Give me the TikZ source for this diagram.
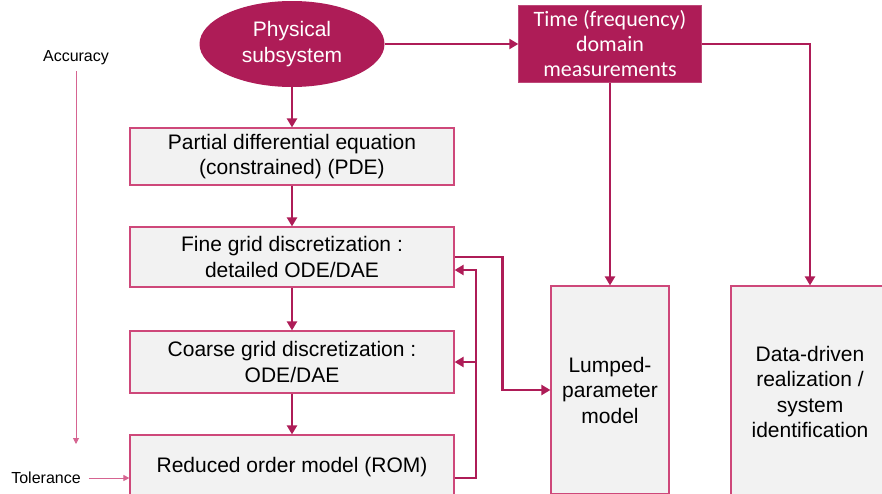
\documentclass[tikz,border=0pt]{standalone}
\usepackage{fontspec}
\setmainfont{Liberation Sans}
\newfontfamily\calib{Carlito}
\usetikzlibrary{arrows.meta,shapes.geometric}
\definecolor{maroon}{RGB}{174,28,87}
\definecolor{boxborder}{RGB}{206,72,122}
\definecolor{boxfill}{RGB}{242,242,242}
\definecolor{thinline}{RGB}{214,100,145}
\tikzset{
  stepbox/.style={draw=boxborder, line width=1.2pt, fill=boxfill, rectangle, align=center,
    inner sep=0pt, font=\fontsize{21}{25.5}\selectfont},
  flow/.style={draw=maroon, line width=2.8pt, -{Triangle[length=9pt,width=10pt]}},
  flowline/.style={draw=maroon, line width=2.8pt},
  thin/.style={draw=thinline, line width=0.9pt, -{Triangle[length=6pt,width=6pt]}},
  side/.style={font=\fontsize{16}{19}\selectfont, inner sep=0pt}
}
\begin{document}
\begin{tikzpicture}[x=1pt,y=-1pt]
\clip (0,0) rectangle (882,493);
\fill[white] (0,0) rectangle (882,493);

\node[ellipse, fill=maroon, minimum width=185pt, minimum height=86pt, inner sep=0pt,
  text=white, align=center, font=\fontsize{21}{26}\selectfont] (phys) at (292,44) {Physical\\subsystem};

\node[rectangle, fill=maroon, draw=maroon!80!white, minimum width=183pt, minimum height=77pt, inner sep=0pt,
  text=white, align=center, font=\calib\fontsize{22}{25}\selectfont] (time) at (610,44) {Time (frequency)\\domain\\measurements};

\node[stepbox, minimum width=324pt, minimum height=57pt] (pde) at (292,156.5) {Partial differential equation\\(constrained) (PDE)};
\node[stepbox, minimum width=324pt, minimum height=60pt] (fine) at (292,257) {Fine grid discretization :\\detailed ODE/DAE};
\node[stepbox, minimum width=324pt, minimum height=62pt] (coarse) at (292,362) {Coarse grid discretization :\\ODE/DAE};
\node[stepbox, minimum width=324pt, minimum height=64pt] (rom) at (292,467) {Reduced order model (ROM)};

\node[stepbox, minimum width=118pt, minimum height=208pt] (lumped) at (610,390) {Lumped-\\parameter\\model};
\node[stepbox, minimum width=158pt, minimum height=212pt] (data) at (810,392) {Data-driven\\realization /\\system\\identification};

\node[side] (acc) at (76,58) {Accuracy};
\coordinate (accend) at (76,444);
\node[side] (tol) at (46,478) {Tolerance};

% main flow
\draw[flow] (phys.south) -- (pde.north);
\draw[flow] (pde.south) -- (fine.north);
\draw[flow] (fine.south) -- (coarse.north);
\draw[flow] (coarse.south) -- (rom.north);
\draw[flow] (phys.east) -- (time.west);
\draw[flow] (time.east) -| (data.north);
\draw[flow] (time.south) -- (lumped.north);

% fine -> lumped
\draw[flow] (fine.east) -- ++(48,0) |- (lumped.west);

% rom feedback
\coordinate (fb) at (476,362);
\draw[flowline] ([yshift=-11pt]rom.east) -| (fb);
\draw[flow] ([yshift=-11pt]rom.east) -| ([yshift=-13pt]fine.east -| fb) -- ([yshift=-13pt]fine.east);
\draw[flow] (fb) -- (coarse.east);

% accuracy / tolerance
\draw[thin, shorten <=6pt] (acc.south) -- (accend);
\draw[thin, shorten <=8pt] (tol.east) -- ([yshift=-11pt]rom.west);
\end{tikzpicture}
\end{document}
